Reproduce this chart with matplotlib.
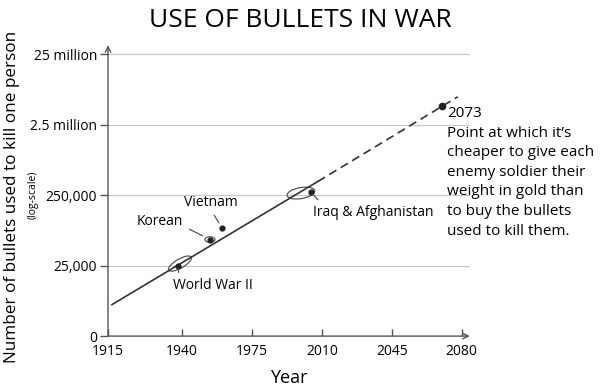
import matplotlib
matplotlib.use("Agg")
import matplotlib.pyplot as plt
import matplotlib.transforms as transforms
from matplotlib.patches import Ellipse

plt.rcParams['font.family'] = ['Open Sans', 'DejaVu Sans']

# --- data ---
# y axis is a log scale where the bottom "0" tick sits one decade under 25,000
y_ticks = [2500, 25000, 250000, 2500000, 25000000]
y_tick_labels = ["0", "25,000", "250,000", "2.5 million", "25 million"]
# the drawn x axis is not linear at its left end: the "1915" tick sits where 1903 would be
x_ticks = [1903, 1940, 1975, 2010, 2045, 2080]
x_tick_labels = ["1915", "1940", "1975", "2010", "2045", "2080"]

trend_years = [1905, 2008]
trend_values = [7000, 390000]
proj_years = [2008, 2078]
proj_values = [390000, 6200000]

wars = ["World War II", "Korean", "Vietnam", "Iraq & Afghanistan"]
war_years = [1938, 1954, 1960, 2004.5]
war_values = [25000, 58600, 86600, 275000]

gold_year = 2070
gold_value = 4600000
gold_text = ("2073\nPoint at which it\u2019s\ncheaper to give each\n"
             "enemy soldier their\nweight in gold than\nto buy the bullets\n"
             "used to kill them.")

# rings drawn round some of the points
ring_years = [1939, 1954, 1999.5]
ring_values = [26700, 58600, 267000]

# --- figure ---
fig = plt.figure(figsize=(6, 3.89), dpi=100)
ax = fig.add_axes([0.18, 0.136, 0.603, 0.748])
ax.set_yscale("log")
ax.set_xlim(1903, 2084)
ax.set_ylim(2500, 3.35e7)

for v in y_ticks[1:]:
    ax.axhline(v, color="#c8c8c8", lw=0.9, zorder=0)

ax.plot(trend_years, trend_values, color="#333333", lw=1.2)
ax.plot(proj_years, proj_values, color="#333333", lw=1.2, ls=(0, (5, 3)))
ax.plot(war_years, war_values, "o", color="#222222", ms=3.5)
ax.plot([gold_year], [gold_value], "o", color="#222222", ms=4.5)

# rings (sized in inches, placed at data points)
ring_sizes = [(0.26, 0.09, 30), (0.10, 0.055, 0), (0.28, 0.11, 10)]
for yr, val, (w, h, ang) in zip(ring_years, ring_values, ring_sizes):
    tr = fig.dpi_scale_trans + transforms.ScaledTranslation(yr, val, ax.transData)
    ax.add_patch(Ellipse((0, 0), w, h, angle=ang, fill=False,
                         ec="#555555", lw=0.9, transform=tr, clip_on=False))

# labels with leader lines
lab_style = dict(fontsize=10, textcoords="offset points", color="black")
ax.annotate(wars[0], xy=(war_years[0], war_values[0]), xytext=(-3.6, -14.4),
            ha="left", va="center",
            arrowprops=dict(arrowstyle="-", lw=0.8, color="#444444",
                            relpos=(0.08, 1), shrinkA=2, shrinkB=2), **lab_style)
ax.annotate(wars[1], xy=(war_years[1], war_values[1]), xytext=(-19.4, 13),
            ha="right", va="center",
            arrowprops=dict(arrowstyle="-", lw=0.8, color="#444444",
                            relpos=(1, 0.2), shrinkA=3, shrinkB=6), **lab_style)
ax.annotate(wars[2], xy=(war_years[2], war_values[2]), xytext=(-8, 18),
            ha="center", va="center",
            arrowprops=dict(arrowstyle="-", lw=0.8, color="#444444",
                            relpos=(0.5, 0), shrinkA=2, shrinkB=4), **lab_style)
ax.annotate(wars[3], xy=(war_years[3], war_values[3]), xytext=(1.5, -14.4),
            ha="left", va="center",
            arrowprops=dict(arrowstyle="-", lw=0.8, color="#444444",
                            relpos=(0.08, 1), shrinkA=2, shrinkB=2), **lab_style)
ax.annotate(gold_text, xy=(gold_year, gold_value), xytext=(3.6, 0),
            textcoords="offset points", ha="left", va="top",
            fontsize=11, linespacing=1.42, annotation_clip=False)

# axes with arrow heads
for s in ax.spines.values():
    s.set_visible(False)
arrow = dict(arrowstyle="->", color="#555555", lw=1, shrinkA=0, shrinkB=0)
ax.annotate("", xy=(0, 1.0), xytext=(0, 0), xycoords="axes fraction", arrowprops=arrow)
ax.annotate("", xy=(1.0, 0), xytext=(0, 0), xycoords="axes fraction", arrowprops=arrow)

ax.set_yticks(y_ticks)
ax.set_yticklabels(y_tick_labels)
ax.minorticks_off()
ax.set_xticks(x_ticks)
ax.set_xticklabels(x_tick_labels)
ax.tick_params(axis="y", direction="out", length=6, width=1, color="#555555",
               labelsize=10, pad=2)
ax.tick_params(axis="x", direction="in", length=5, width=1, color="#555555",
               labelsize=10, pad=6)

ax.set_xlabel("Year", fontsize=13, labelpad=7)
fig.text(0.02, 0.494, "Number of bullets used to kill one person", rotation=90,
         ha="center", va="center", fontsize=12.3)
fig.text(0.055, 0.498, "(log-scale)", rotation=90, ha="center", va="center",
         fontsize=7.5)
fig.text(0.5, 0.948, "USE OF BULLETS IN WAR", ha="center", va="center",
         fontsize=19)

fig.savefig("out.png", dpi=100, facecolor="white")
